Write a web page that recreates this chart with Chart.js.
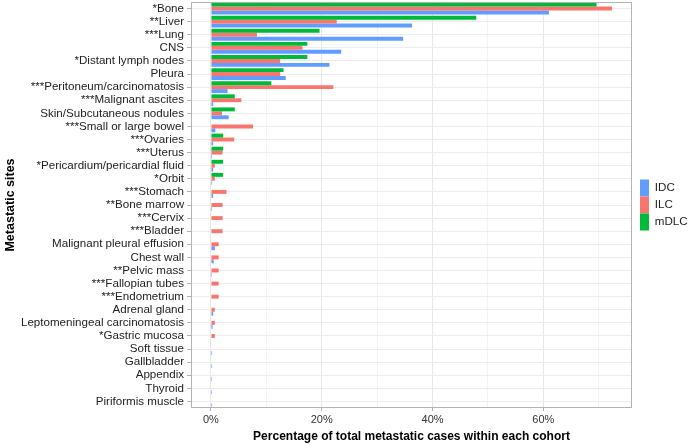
<!DOCTYPE html>
<html>
<head>
<meta charset="utf-8">
<script src="https://cdn.jsdelivr.net/npm/chart.js@4.4.1/dist/chart.umd.min.js"></script>
<style>
    body { margin: 0; background: #fff; }
    #wrap { width: 688px; height: 445px; }
</style>
</head>
<body>
<div id="wrap"><canvas id="barChart" width="688" height="445"></canvas></div>
<script>
const sites = [
    '*Bone', '**Liver', '***Lung', 'CNS', '*Distant lymph nodes', 'Pleura',
    '***Peritoneum/carcinomatosis', '***Malignant ascites', 'Skin/Subcutaneous nodules',
    '***Small or large bowel', '***Ovaries', '***Uterus', '*Pericardium/pericardial fluid',
    '*Orbit', '***Stomach', '**Bone marrow', '***Cervix', '***Bladder',
    'Malignant pleural effusion', 'Chest wall', '**Pelvic mass', '***Fallopian tubes',
    '***Endometrium', 'Adrenal gland', 'Leptomeningeal carcinomatosis', '*Gastric mucosa',
    'Soft tissue', 'Gallbladder', 'Appendix', 'Thyroid', 'Piriformis muscle'
];

// percentages
const idcValues = [61.0, 36.3, 34.7, 23.5, 21.4, 13.5, 3.0, 0.4, 3.2, 0.8, 0.4, 0.2, 0.4, 0.2, 0.4, 0.2,
    0, 0, 0.7, 0.5, 0.2, 0, 0, 0.4, 0.3, 0, 0.2, 0.2, 0.2, 0.2, 0.2];
const ilcValues = [72.4, 22.7, 8.3, 16.5, 12.5, 12.5, 22.1, 5.5, 2.0, 7.6, 4.2, 2.1, 0.7, 0.7, 2.8, 2.1,
    2.1, 2.1, 1.4, 1.4, 1.4, 1.4, 1.4, 0.7, 0.7, 0.7, 0, 0, 0, 0, 0];
const mdlcValues = [69.6, 47.9, 19.6, 17.4, 17.4, 13.1, 10.9, 4.3, 4.3, 0, 2.2, 2.2, 2.2, 2.2, 0, 0,
    0, 0, 0, 0, 0, 0, 0, 0, 0, 0, 0, 0, 0, 0, 0];

const xTicks = [0, 10, 20, 30, 40, 50, 60, 70];
const xLabelled = [0, 20, 40, 60];

const fontFamily = '"Liberation Sans", Arial, Helvetica, sans-serif';

// ggplot-style border all round the panel
const panelBorder = {
    id: 'panelBorder',
    afterDatasetsDraw(chart) {
        const { ctx, chartArea: a } = chart;
        ctx.save();
        ctx.strokeStyle = '#b3b3b3';
        ctx.lineWidth = 1;
        ctx.strokeRect(a.left + 0.5, a.top + 0.5, a.right - a.left - 1, a.bottom - a.top - 1);
        ctx.restore();
    }
};

document.addEventListener('DOMContentLoaded', () => {
    const ctx = document.getElementById('barChart').getContext('2d');

    new Chart(ctx, {
        type: 'bar',
        data: {
            labels: sites,
            // drawn top to bottom inside each site, legend is reversed below
            datasets: [{
                label: 'mDLC',
                data: mdlcValues,
                backgroundColor: '#00BA38'
            }, {
                label: 'ILC',
                data: ilcValues,
                backgroundColor: '#F8766D'
            }, {
                label: 'IDC',
                data: idcValues,
                backgroundColor: '#619CFF'
            }]
        },
        options: {
            indexAxis: 'y',
            responsive: false,
            devicePixelRatio: 1,
            animation: false,
            layout: { padding: { top: 2, left: 0, right: 0, bottom: 0 } },
            datasets: {
                bar: { categoryPercentage: 0.9, barPercentage: 1.0, borderWidth: 0 }
            },
            scales: {
                x: {
                    type: 'linear',
                    min: -3.6,
                    max: 76,
                    afterBuildTicks: (scale) => {
                        scale.ticks = xTicks.map(v => ({ value: v }));
                    },
                    afterFit: (scale) => { scale.height = 37; },
                    border: { display: false },
                    grid: {
                        color: (c) => xLabelled.includes(c.tick && c.tick.value) ? '#e8e8e8' : '#f3f3f3',
                        tickColor: (c) => xLabelled.includes(c.tick && c.tick.value) ? '#b3b3b3' : 'rgba(0,0,0,0)',
                        tickLength: 3
                    },
                    ticks: {
                        autoSkip: false,
                        maxRotation: 0,
                        padding: 2,
                        color: '#333',
                        font: { family: fontFamily, size: 11 },
                        callback: (v) => xLabelled.includes(v) ? v + '%' : ''
                    },
                    title: {
                        display: true,
                        text: 'Percentage of total metastatic cases within each cohort',
                        color: '#000',
                        font: { family: fontFamily, size: 12, weight: 'bold' },
                        padding: { top: 0, bottom: 1 }
                    }
                },
                y: {
                    type: 'category',
                    afterFit: (scale) => {
                        scale.width = 191;
                        scale.paddingTop = 0;
                        scale.paddingBottom = 0;
                    },
                    border: { display: false },
                    grid: {
                        offset: false,
                        color: '#ececec',
                        tickColor: '#b3b3b3',
                        tickLength: 4
                    },
                    ticks: {
                        autoSkip: false,
                        padding: 3,
                        color: '#222',
                        font: { family: fontFamily, size: 11.6 }
                    },
                    title: {
                        display: true,
                        text: 'Metastatic sites',
                        color: '#000',
                        font: { family: fontFamily, size: 12.5, weight: 'bold' },
                        padding: { top: 3, bottom: 0 }
                    }
                },
                gap: {
                    type: 'category',
                    axis: 'y',
                    position: 'right',
                    afterFit: (scale) => {
                        scale.width = 8;
                        scale.paddingTop = 0;
                        scale.paddingBottom = 0;
                    },
                    border: { display: false },
                    grid: { display: false },
                    ticks: { display: false }
                }
            },
            plugins: {
                legend: {
                    position: 'right',
                    fullSize: false,
                    maxWidth: 48,
                    reverse: true,
                    labels: {
                        boxWidth: 9,
                        boxHeight: 17,
                        padding: 0,
                        color: '#222',
                        font: { family: fontFamily, size: 11.6 }
                    }
                },
                tooltip: { enabled: false }
            }
        },
        plugins: [panelBorder]
    });
});
</script>
</body>
</html>
